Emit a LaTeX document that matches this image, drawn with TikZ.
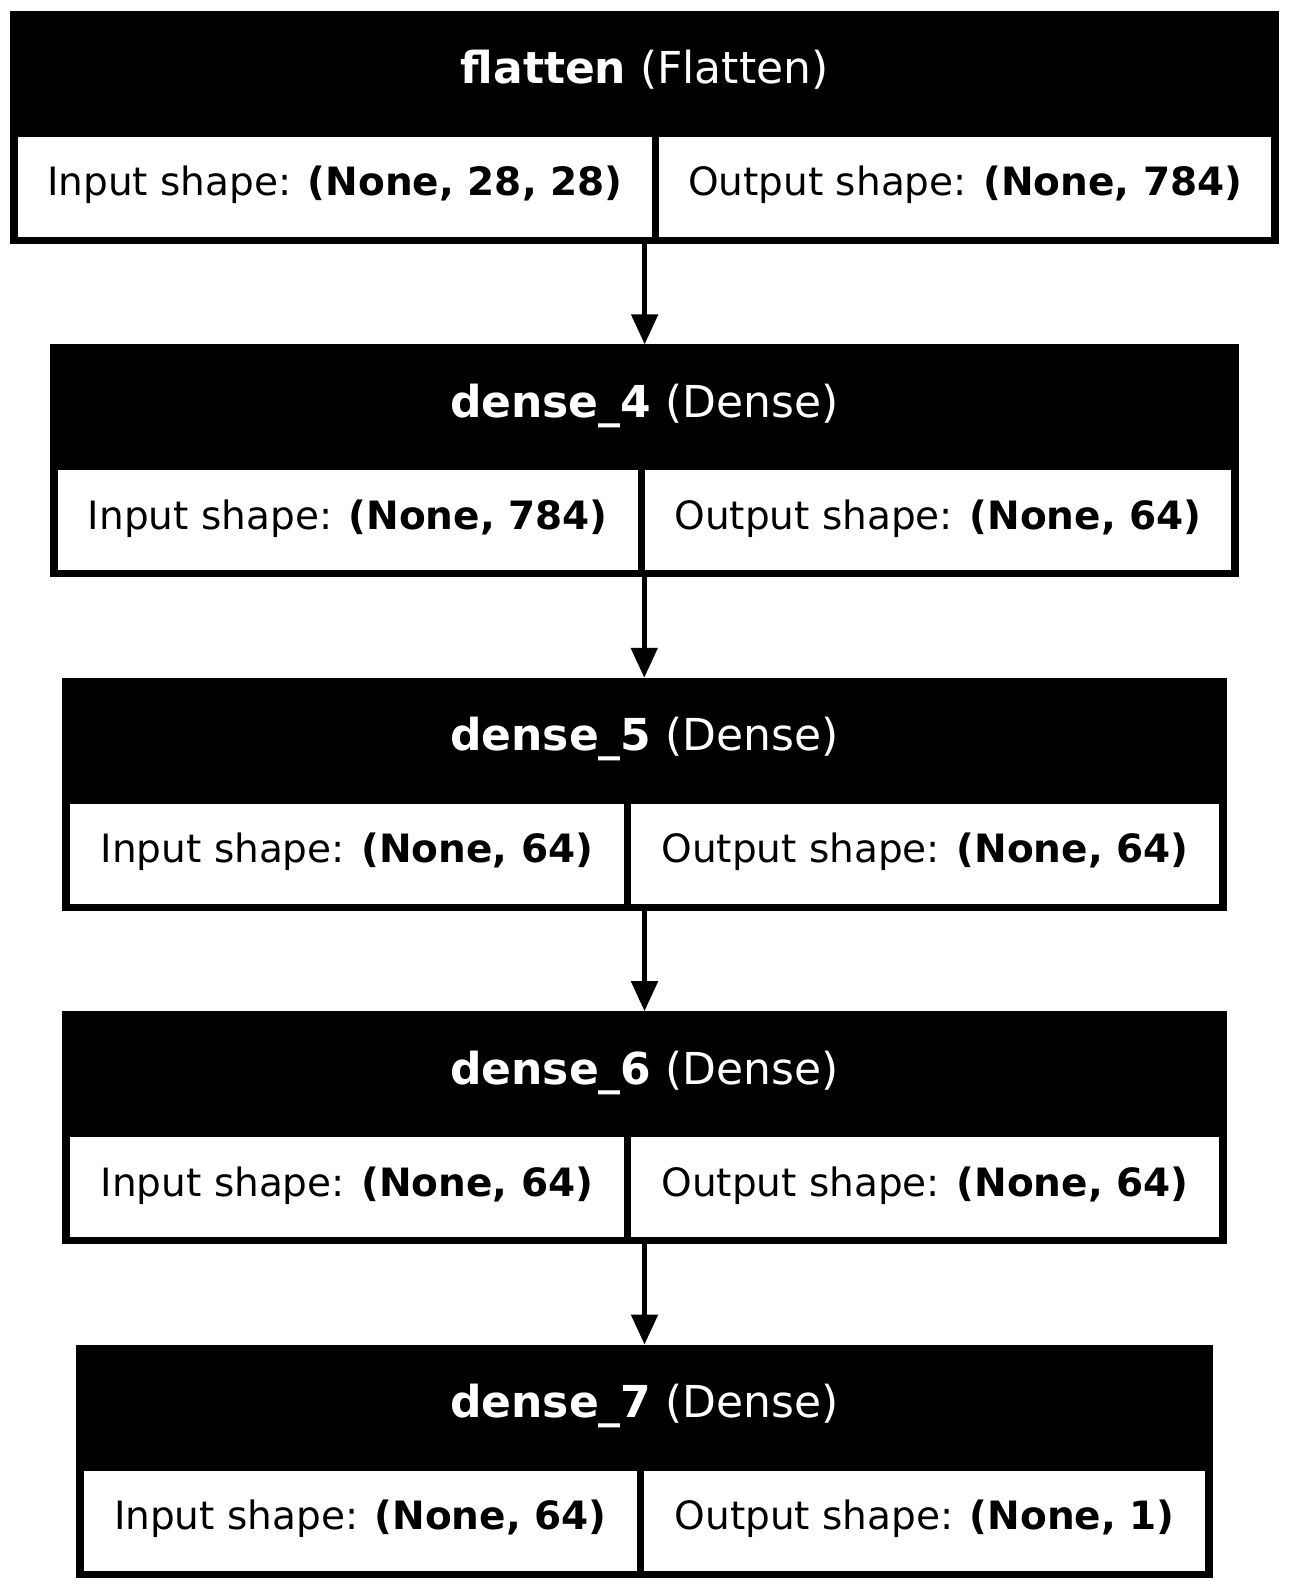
\documentclass[tikz,border=0pt]{standalone}
\usepackage{fontspec}
\setmainfont{DejaVu Sans}
\usetikzlibrary{fit,arrows.meta}
\tikzset{
  layerframe/.style={fill=black, inner sep=0pt, outer sep=0pt},
  cellbox/.style={fill=white, inner sep=0pt, outer sep=0pt},
  headtext/.style={text=white, font=\fontsize{22pt}{26pt}\selectfont, inner sep=0pt, anchor=base},
  celltext/.style={text=black, font=\fontsize{19.5pt}{23pt}\selectfont, inner sep=0pt, anchor=base},
  conn/.style={draw=black, line width=2.5pt, -{Triangle[length=15pt,width=13pt]}},
}
\newcommand\mklayer[9]{%
  \node[layerframe, fit={(#2,#4) (#3,#4+233)}] (#1) {};
  \node[cellbox, fit={(#2+8,#4+126) (#5-3.8,#4+226)}] (#1in) {};
  \node[cellbox, fit={(#5+3.8,#4+126) (#3-8,#4+226)}] (#1out) {};
  \node[headtext] (#1title) at ({(#2+#3)/2},{#4+73}) {\textbf{#6} #7};
  \node[celltext] (#1intext) at ({(#2+8+#5-3.8)/2},{#4+185}) {Input shape: \textbf{#8}};
  \node[celltext] (#1outtext) at ({(#5+3.8+#3-8)/2},{#4+185}) {Output shape: \textbf{#9}};
}
\begin{document}
\begin{tikzpicture}[x=0.5pt,y=-0.5pt]
  \useasboundingbox[fill=white] (0,0) rectangle (1289,1589);
  \mklayer{flatten}{10}{1279.3}{11}{655.5}{flatten}{(Flatten)}{(None, 28, 28)}{(None, 784)}
  \mklayer{densefour}{50}{1238.5}{344.4}{641.5}{dense\_4}{(Dense)}{(None, 784)}{(None, 64)}
  \mklayer{densefive}{62.3}{1226.7}{677.8}{627.5}{dense\_5}{(Dense)}{(None, 64)}{(None, 64)}
  \mklayer{densesix}{62.3}{1226.7}{1011.2}{627.5}{dense\_6}{(Dense)}{(None, 64)}{(None, 64)}
  \mklayer{denseseven}{76}{1213}{1344.6}{640.5}{dense\_7}{(Dense)}{(None, 64)}{(None, 1)}
  \draw[conn] (flatten.south) -- (flatten.south |- densefour.north);
  \draw[conn] (densefour.south) -- (densefour.south |- densefive.north);
  \draw[conn] (densefive.south) -- (densefive.south |- densesix.north);
  \draw[conn] (densesix.south) -- (densesix.south |- denseseven.north);
\end{tikzpicture}
\end{document}
